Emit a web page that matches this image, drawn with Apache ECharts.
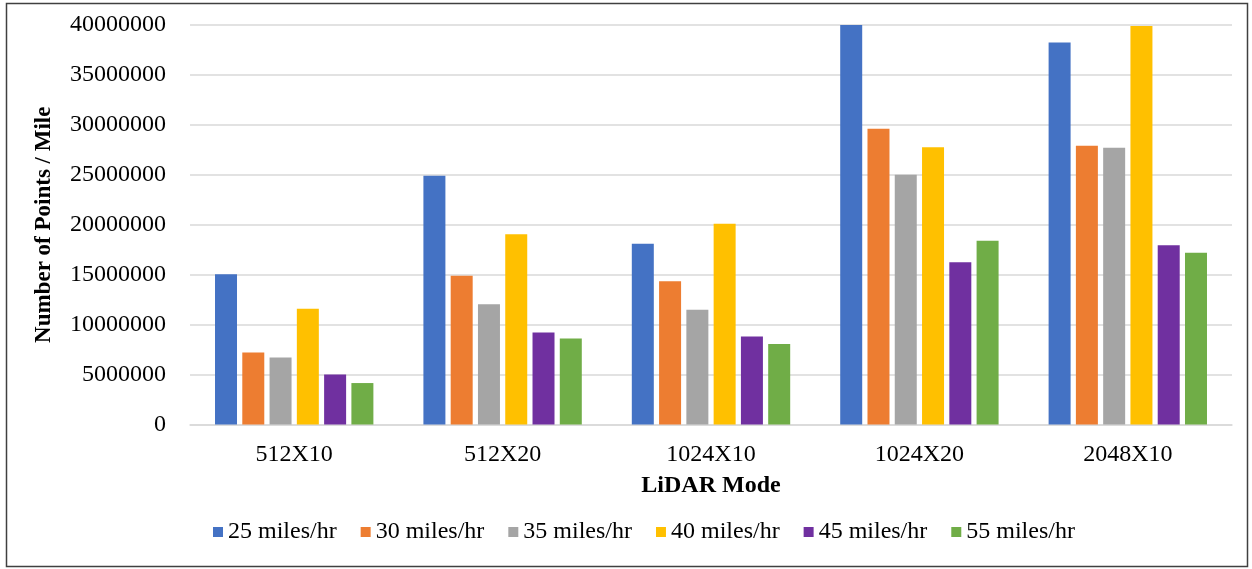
<!DOCTYPE html>
<html>
<head>
<meta charset="utf-8">
<script src="https://cdn.jsdelivr.net/npm/echarts@6/dist/echarts.min.js"></script>
<style>
  html, body { margin: 0; padding: 0; background: #fff; }
  #chart { width: 1252px; height: 569px; }
</style>
</head>
<body>
<div id="chart"></div>
<script>
// LiDAR point density per mile, by scan mode and vehicle speed
const categories = ['512X10', '512X20', '1024X10', '1024X20', '2048X10'];
const seriesNames = ['25 miles/hr', '30 miles/hr', '35 miles/hr', '40 miles/hr', '45 miles/hr', '55 miles/hr'];
const speed25 = [15050000, 24900000, 18100000, 40000000, 38250000];
const speed30 = [7200000, 14900000, 14350000, 29600000, 27900000];
const speed35 = [6700000, 12050000, 11500000, 25000000, 27700000];
const speed40 = [11600000, 19050000, 20100000, 27750000, 39900000];
const speed45 = [5000000, 9200000, 8800000, 16250000, 17950000];
const speed55 = [4150000, 8600000, 8050000, 18400000, 17200000];
const colors = ['#4472C4', '#ED7D31', '#A5A5A5', '#FFC000', '#7030A0', '#70AD47'];

const values = [speed25, speed30, speed35, speed40, speed45, speed55];
const font = 'Liberation Serif, Times New Roman, serif';

const chart = echarts.init(document.getElementById('chart'));
chart.setOption({
  animation: false,
  color: colors,
  textStyle: { fontFamily: font },
  grid: { left: 190, right: 20, top: 25, bottom: 144.5, containLabel: false },
  legend: {
    bottom: 20,
    left: 208,
    itemWidth: 10,
    itemHeight: 10,
    itemGap: 24,
    icon: 'rect',
    textStyle: { fontFamily: font, fontSize: 24, color: '#000' },
    data: seriesNames
  },
  xAxis: {
    type: 'category',
    data: categories,
    name: 'LiDAR Mode',
    nameLocation: 'middle',
    nameGap: 49,
    nameTextStyle: { fontFamily: font, fontSize: 24, fontWeight: 'bold', color: '#000' },
    axisTick: { show: false },
    axisLine: { lineStyle: { color: '#d9d9d9', width: 1.5 } },
    axisLabel: { fontFamily: font, fontSize: 24, color: '#000', margin: 18 }
  },
  yAxis: {
    type: 'value',
    min: 0,
    max: 40000000,
    interval: 5000000,
    name: 'Number of Points / Mile',
    nameLocation: 'middle',
    nameGap: 134,
    nameTextStyle: { fontFamily: font, fontSize: 23, fontWeight: 'bold', color: '#000' },
    axisLine: { show: false },
    axisTick: { show: false },
    axisLabel: {
      fontFamily: font, fontSize: 24, color: '#000', margin: 24,
      formatter: (v) => String(v)
    },
    splitLine: { lineStyle: { color: '#d9d9d9', width: 1.5 } }
  },
  series: seriesNames.map((name, i) => ({
    name: name,
    type: 'bar',
    data: values[i],
    barGap: '24%',
    barCategoryGap: '24%',
    itemStyle: { color: colors[i] }
  })),
  graphic: [{
    type: 'rect',
    shape: { x: 6.5, y: 3.5, width: 1241, height: 563 },
    style: { fill: 'none', stroke: '#404040', lineWidth: 1.5 },
    silent: true
  }]
});
</script>
</body>
</html>
